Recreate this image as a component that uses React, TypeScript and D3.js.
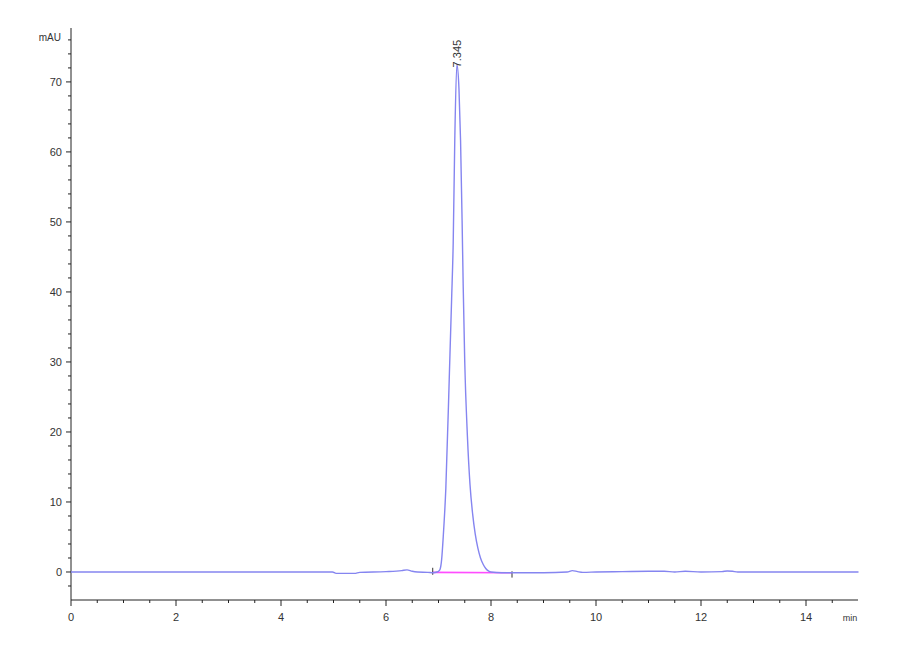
import * as d3 from "d3";
import React from "react";

// retention time (min) and signal (mAU)
const times = [
  0, 1, 2, 3, 4, 4.98, 5.05, 5.4, 5.5, 6.0, 6.3, 6.4, 6.5, 6.6, 6.8, 6.9, 6.97,
  7.0, 7.03, 7.06, 7.09, 7.14, 7.21, 7.25, 7.28, 7.31, 7.35, 7.39, 7.42, 7.45, 7.47,
  7.5, 7.55, 7.6, 7.65, 7.7, 7.75, 7.8, 7.85, 7.9, 7.95, 8.0, 8.2, 8.5, 9.0, 9.45, 9.55,
  9.65, 9.75, 10, 10.5, 11, 11.3, 11.5, 11.7, 12, 12.4, 12.5, 12.6, 12.7, 13, 14, 15,
];
const signal = [
  0, 0, 0, 0, 0, 0, -0.2, -0.2, -0.05, 0.05, 0.2, 0.3, 0.1, 0.0, -0.05, -0.1, 0.0,
  0.1, 0.4, 1.8, 5.0, 12, 29, 39, 47, 61.7, 72.5, 69, 61.7, 50, 41,
  30, 19.5, 12.5, 8.3, 5.4, 3.4, 2.0, 1.1, 0.5, 0.15, 0.0, -0.1, -0.1, -0.1, 0.0, 0.2,
  0.05, -0.05, 0, 0.05, 0.1, 0.1, 0, 0.1, 0, 0.05, 0.15, 0.1, 0.0, 0, 0, 0,
];

// integration baseline of the peak
const baseTimes = [6.89, 8.4];
const baseValues = [-0.05, -0.1];

const peakTime = 7.345;
const peakHeight = 72.5;
const peakLabel = "7.345";

const xMajor = [0, 2, 4, 6, 8, 10, 12, 14];
const yMajor = [0, 10, 20, 30, 40, 50, 60, 70];

const App: React.FC = () => {
  const x = d3.scaleLinear().domain([0, 15]).range([71, 858.5]);
  const y = d3.scaleLinear().domain([-4, 77.7]).range([600, 28]);

  const xMinor = d3.range(0.5, 15, 0.5).filter((v) => v % 2 !== 0);
  const yMinor = d3.range(-2, 77, 2).filter((v) => v % 10 !== 0);

  const pts: [number, number][] = times.map((t, i) => [t, signal[i]]);
  const line = d3
    .line<[number, number]>()
    .x((d) => x(d[0]))
    .y((d) => y(d[1]))
    .curve(d3.curveMonotoneX);

  const font = "'Liberation Sans', Arial, sans-serif";

  return (
    <div style={{ position: "absolute", left: 0, top: 0 }}>
      <svg width={900} height={660} style={{ display: "block", background: "#fff" }}>
        {/* y axis */}
        <line x1={71} x2={71} y1={28} y2={600} stroke="#222" strokeWidth={1} />
        {yMajor.map((v) => (
          <g key={"ym" + v}>
            <line x1={66} x2={71} y1={y(v)} y2={y(v)} stroke="#222" />
            <text x={62} y={y(v) + 4} textAnchor="end" fontSize={11} fontFamily={font} fill="#333">
              {v}
            </text>
          </g>
        ))}
        {yMinor.map((v) => (
          <line key={"yn" + v} x1={68} x2={71} y1={y(v)} y2={y(v)} stroke="#222" />
        ))}
        <text x={61} y={41} textAnchor="end" fontSize={10} fontFamily={font} fill="#333">
          mAU
        </text>

        {/* x axis */}
        <line x1={71} x2={858} y1={600} y2={600} stroke="#222" strokeWidth={1} />
        {xMajor.map((v) => (
          <g key={"xm" + v}>
            <line x1={x(v)} x2={x(v)} y1={600} y2={606} stroke="#222" />
            <text x={x(v)} y={621} textAnchor="middle" fontSize={11} fontFamily={font} fill="#333">
              {v}
            </text>
          </g>
        ))}
        {xMinor.map((v) => (
          <line key={"xn" + v} x1={x(v)} x2={x(v)} y1={600} y2={603} stroke="#222" />
        ))}
        <text x={850} y={621} textAnchor="middle" fontSize={9} fontFamily={font} fill="#333">
          min
        </text>

        {/* baseline */}
        <line
          x1={x(baseTimes[0])}
          x2={x(baseTimes[1])}
          y1={y(baseValues[0])}
          y2={y(baseValues[1])}
          stroke="#ff4dff"
          strokeWidth={1.6}
        />
        <line x1={x(baseTimes[0])} x2={x(baseTimes[0])} y1={y(0.6)} y2={y(-0.4)} stroke="#333" />
        <line x1={x(baseTimes[1])} x2={x(baseTimes[1])} y1={y(0.1)} y2={y(-0.8)} stroke="#333" />

        {/* trace */}
        <path d={line(pts) ?? ""} fill="none" stroke="#8585f0" strokeWidth={1.4} />

        {/* peak label */}
        <text
          transform={`translate(${x(peakTime) + 4}, ${y(peakHeight) + 3}) rotate(-90)`}
          fontSize={11}
          fontFamily={font}
          fill="#333"
        >
          {peakLabel}
        </text>
      </svg>
    </div>
  );
};

export default App;
